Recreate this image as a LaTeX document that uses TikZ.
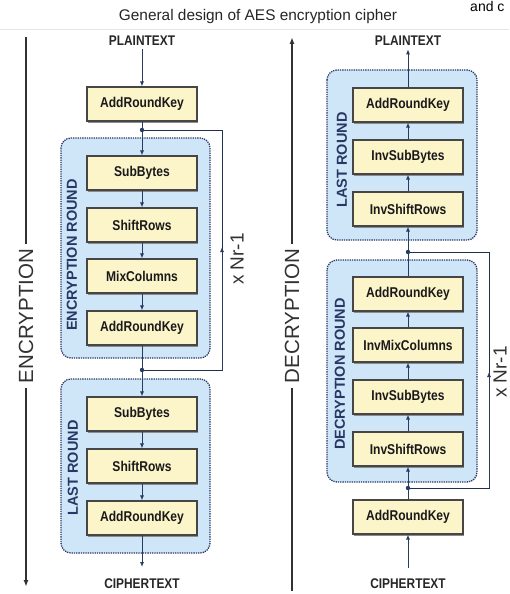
\documentclass[tikz,border=0pt]{standalone}
\usepackage{fontspec}
\setmainfont{Liberation Sans}
\newfontfamily\narrowfont[FakeStretch=0.85]{Liberation Sans}
\usetikzlibrary{arrows.meta,shadows}
\definecolor{boxfill}{RGB}{252,245,202}
\definecolor{boxline}{RGB}{70,70,70}
\definecolor{roundfill}{RGB}{207,230,249}
\definecolor{roundline}{RGB}{40,55,100}
\definecolor{flowc}{RGB}{40,60,95}
\definecolor{axisc}{RGB}{50,50,50}

\begin{document}
\begin{tikzpicture}[x=1pt,y=-1pt,
  opbox/.style={draw=boxline,line width=1.1pt,fill=boxfill,minimum width=110pt,minimum height=34pt,inner sep=0pt,
    font=\narrowfont\bfseries\fontsize{14.2}{16}\selectfont,text=black!90,
    drop shadow={shadow xshift=1pt,shadow yshift=-1.5pt,fill=black!45,opacity=1}},
  endtext/.style={font=\narrowfont\bfseries\fontsize{14}{16}\selectfont,text=black!85},
  roundbg/.style={draw=roundline,fill=roundfill,line width=1.3pt,dash pattern=on 1.3pt off 1pt,rounded corners=10pt},
  roundlabel/.style={rotate=90,font=\bfseries\fontsize{14.5}{16}\selectfont,text=roundline},
  axislabel/.style={rotate=90,inner sep=5pt,font=\fontsize{20.5}{24}\selectfont,text=axisc},
  flow/.style={draw=flowc,line width=0.9pt,-{Latex[length=5pt,width=4pt]}},
  fbline/.style={draw=flowc!80!black,line width=0.9pt},
  axis/.style={draw=axisc,line width=1.5pt}]
  \fill[white] (0,0) rectangle (509,594);
  \useasboundingbox (0,0) rectangle (509,594);
  \draw[gray!20] (0,29) -- (509,29);
  \node[anchor=base east,font=\fontsize{14}{16}\selectfont] (corner) at (508,12) {and c};
  \node[font=\fontsize{15.4}{18}\selectfont,text=black!85] (title) at (258,17) {General design of AES encryption cipher};

  % encryption
  \draw[roundbg] (61,138) rectangle (210,358);
  \draw[roundbg] (61,379) rectangle (210,553);
  \node[roundlabel] (encround) at (72,255) {ENCRYPTION ROUND};
  \node[roundlabel] (enclast) at (73,468) {LAST ROUND};
  \node[endtext] (ptL) at (142,41) {PLAINTEXT};
  \node[opbox] (e0) at (142,104) {AddRoundKey};
  \node[opbox] (e1) at (142,173) {SubBytes};
  \node[opbox] (e2) at (142,225) {ShiftRows};
  \node[opbox] (e3) at (142,276) {MixColumns};
  \node[opbox] (e4) at (142,328) {AddRoundKey};
  \node[opbox] (e5) at (142,414) {SubBytes};
  \node[opbox] (e6) at (142,466) {ShiftRows};
  \node[opbox] (e7) at (142,518) {AddRoundKey};
  \node[endtext] (ctL) at (142,584) {CIPHERTEXT};
  \coordinate (dA) at (142,130);
  \coordinate (dB) at (142,370);
  \coordinate (cL) at (142,567);
  \coordinate (fbA) at (222,130);
  \coordinate (fbB) at (222,370);
  \coordinate (fbM) at (222,247);
  \draw[flow] (ptL) -- (e0);
  \draw[flow] (e0) -- (e1);
  \draw[flow] (e1) -- (e2);
  \draw[flow] (e2) -- (e3);
  \draw[flow] (e3) -- (e4);
  \draw[flow] (e4) -- (e5);
  \draw[flow] (e5) -- (e6);
  \draw[flow] (e6) -- (e7);
  \draw[flow] (e7) -- (cL);
  \draw[fbline] (dB) -- (fbB) -- (fbA) -- (dA);
  \draw[flow] (fbB) -- (fbM);
  \fill[flowc] (dA) circle (2.2pt);
  \fill[flowc] (dB) circle (2.2pt);
  \node[rotate=90,font=\fontsize{19}{21}\selectfont,text=axisc] (nrL) at (237,259) {x Nr-1};

  \node[axislabel] (enc) at (26,316) {ENCRYPTION};
  \coordinate (encTop) at (26,37);
  \coordinate (encBot) at (26,587);
  \draw[axis] (encTop) -- (enc.east);
  \draw[axis,-{Latex[length=7pt,width=5pt]}] (enc.west) -- (encBot);

  % decryption
  \draw[roundbg] (327,70) rectangle (477,240);
  \draw[roundbg] (327,260) rectangle (477,482);
  \node[roundlabel] (declast) at (342,160) {LAST ROUND};
  \node[roundlabel] (decround) at (340,374) {DECRYPTION ROUND};
  \node[endtext] (ptR) at (408,41) {PLAINTEXT};
  \node[opbox] (d1) at (408,105) {AddRoundKey};
  \node[opbox] (d2) at (408,157) {InvSubBytes};
  \node[opbox] (d3) at (408,209) {InvShiftRows};
  \node[opbox] (d4) at (408,294) {AddRoundKey};
  \node[opbox] (d5) at (408,345) {InvMixColumns};
  \node[opbox] (d6) at (408,397) {InvSubBytes};
  \node[opbox] (d7) at (408,449) {InvShiftRows};
  \node[opbox] (d8) at (408,517) {AddRoundKey};
  \node[endtext] (ctR) at (408,584) {CIPHERTEXT};
  \coordinate (dC) at (408,252);
  \coordinate (dD) at (408,488);
  \coordinate (cR) at (408,568);
  \coordinate (fbC) at (489,252);
  \coordinate (fbD) at (489,488);
  \coordinate (fbN) at (489,372);
  \draw[flow] (cR) -- (d8);
  \draw[flow] (d8) -- (d7);
  \draw[flow] (d7) -- (d6);
  \draw[flow] (d6) -- (d5);
  \draw[flow] (d5) -- (d4);
  \draw[flow] (d4) -- (d3);
  \draw[flow] (d3) -- (d2);
  \draw[flow] (d2) -- (d1);
  \draw[flow] (d1) -- (ptR);
  \draw[fbline] (dD) -- (fbD) -- (fbC) -- (dC);
  \draw[flow] (fbD) -- (fbN);
  \fill[flowc] (dC) circle (2.2pt);
  \fill[flowc] (dD) circle (2.2pt);
  \node[rotate=90,font=\fontsize{19}{21}\selectfont,text=axisc] (nrR) at (500,372) {x Nr-1};

  \node[axislabel] (dec) at (292,316) {DECRYPTION};
  \coordinate (decTop) at (292,37);
  \coordinate (decBot) at (292,591);
  \draw[axis,-{Latex[length=7pt,width=5pt]}] (dec.east) -- (decTop);
  \draw[axis] (decBot) -- (dec.west);
\end{tikzpicture}
\end{document}
